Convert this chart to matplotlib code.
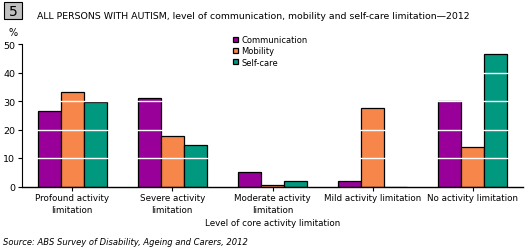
import numpy as np
import matplotlib.pyplot as plt
from matplotlib.patches import Rectangle

# data
categories = ['Profound activity\nlimitation', 'Severe activity\nlimitation',
              'Moderate activity\nlimitation', 'Mild activity limitation',
              'No activity limitation']
series_names = ['Communication', 'Mobility', 'Self-care']
communication = [26.4, 30.9, 5.0, 1.8, 30.1]
mobility = [33.0, 17.6, 0.6, 27.5, 13.8]
self_care = [29.5, 14.5, 1.8, 0.0, 46.5]
colors = ['#990099', '#F7864A', '#009980']
yticks = [0, 10, 20, 30, 40, 50]

plt.rcParams['font.family'] = ['DejaVu Sans']

fig = plt.figure(figsize=(5.29, 2.53), dpi=100)
ax = fig.add_axes([22 / 529, 1 - 187.5 / 253, 501 / 529, 142.5 / 253])

x = np.arange(len(categories))
w = 0.23
for i, (vals, c, name) in enumerate(zip([communication, mobility, self_care], colors, series_names)):
    ax.bar(x + (i - 1) * w, vals, w, color=c, edgecolor='black', linewidth=0.9,
           label=name, zorder=2)

# white gridlines over the bars
for yv in yticks[1:-1]:
    ax.axhline(yv, color='white', linewidth=1.0, zorder=3)

ax.set_xlim(-0.5, 4.5)
ax.set_ylim(0, 50)
ax.set_yticks(yticks)
ax.set_xticks(x)
ax.set_xticklabels(categories, fontsize=6.3, linespacing=1.4)
ax.tick_params(axis='y', labelsize=6.8, length=3, pad=2, direction='out')
ax.tick_params(axis='x', length=3, pad=2)
for s in ['top', 'right']:
    ax.spines[s].set_visible(False)
ax.spines['bottom'].set_linewidth(1.0)
ax.spines['left'].set_linewidth(0.8)
ax.spines['left'].set_zorder(4)
ax.spines['bottom'].set_zorder(4)

ax.set_xlabel('Level of core activity limitation', fontsize=6.3, labelpad=3)

leg = ax.legend(loc='upper left', bbox_to_anchor=(207 / 501, 1.09), frameon=False,
                fontsize=6.0, handlelength=0.6, handleheight=0.6, handletextpad=0.4,
                labelspacing=0.25, borderpad=0)

# header
fig.patches.append(Rectangle((4 / 529, 1 - 20 / 253), 18 / 529, 17 / 253,
                             transform=fig.transFigure, facecolor='#c0c0c0',
                             edgecolor='black', linewidth=0.8))
fig.text(13 / 529, 1 - 11.5 / 253, '5', fontsize=10, ha='center', va='center')
fig.text(37 / 529, 1 - 16.5 / 253,
         'ALL PERSONS WITH AUTISM, level of communication, mobility and self-care limitation\u20142012',
         fontsize=6.75, ha='left', va='center')
fig.text(13 / 529, 1 - 33.5 / 253, '%', fontsize=7, ha='center', va='center')
fig.text(3 / 529, 1 - 243 / 253, 'Source: ABS Survey of Disability, Ageing and Carers, 2012',
         fontsize=6.05, style='italic', ha='left', va='center')

fig.savefig('out.png', dpi=100)
